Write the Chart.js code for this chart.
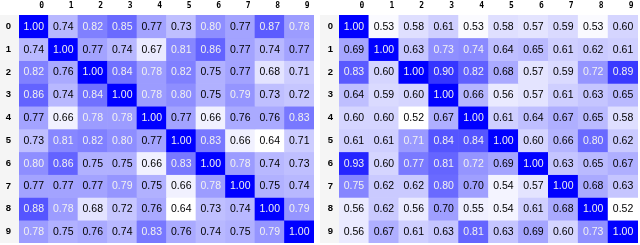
<!DOCTYPE html>
<html>
<head>
<meta charset="utf-8">
<script src="https://cdn.jsdelivr.net/npm/chart.js@4.4.1/dist/chart.umd.min.js"></script>
<style>
  html, body { margin: 0; padding: 0; background: #ffffff; overflow: hidden; }
  #wrap { position: relative; width: 640px; height: 245px; }
  canvas { position: absolute; top: 0; }
  #c1 { left: 0; }
  #c2 { left: 320px; }
</style>
</head>
<body>
<div id="wrap">
  <canvas id="c1" width="320" height="245" style="width:320px;height:245px"></canvas>
  <canvas id="c2" width="320" height="245" style="width:320px;height:245px"></canvas>
</div>
<script>
const colLabels = ['0','1','2','3','4','5','6','7','8','9'];
const rowLabels = ['0','1','2','3','4','5','6','7','8','9'];

const leftValues = [
  [1.00,0.74,0.82,0.85,0.77,0.73,0.80,0.77,0.87,0.78],
  [0.74,1.00,0.77,0.74,0.67,0.81,0.86,0.77,0.74,0.77],
  [0.82,0.76,1.00,0.84,0.78,0.82,0.75,0.77,0.68,0.71],
  [0.86,0.74,0.84,1.00,0.78,0.80,0.75,0.79,0.73,0.72],
  [0.77,0.66,0.78,0.78,1.00,0.77,0.66,0.76,0.76,0.83],
  [0.73,0.81,0.82,0.80,0.77,1.00,0.83,0.66,0.64,0.71],
  [0.80,0.86,0.75,0.75,0.66,0.83,1.00,0.78,0.74,0.73],
  [0.77,0.77,0.77,0.79,0.75,0.66,0.78,1.00,0.75,0.74],
  [0.88,0.78,0.68,0.72,0.76,0.64,0.73,0.74,1.00,0.79],
  [0.78,0.75,0.76,0.74,0.83,0.76,0.74,0.75,0.79,1.00]
];

const rightValues = [
  [1.00,0.53,0.58,0.61,0.53,0.58,0.57,0.59,0.53,0.60],
  [0.69,1.00,0.63,0.73,0.74,0.64,0.65,0.61,0.62,0.61],
  [0.83,0.60,1.00,0.90,0.82,0.68,0.57,0.59,0.72,0.89],
  [0.64,0.59,0.60,1.00,0.66,0.56,0.57,0.61,0.63,0.65],
  [0.60,0.60,0.52,0.67,1.00,0.61,0.64,0.67,0.65,0.58],
  [0.61,0.61,0.71,0.84,0.84,1.00,0.60,0.66,0.80,0.62],
  [0.93,0.60,0.77,0.81,0.72,0.69,1.00,0.63,0.65,0.67],
  [0.75,0.62,0.62,0.80,0.70,0.54,0.57,1.00,0.68,0.63],
  [0.56,0.62,0.56,0.70,0.55,0.54,0.61,0.68,1.00,0.52],
  [0.56,0.67,0.61,0.63,0.81,0.63,0.69,0.60,0.73,1.00]
];

function norm(v, lo, hi) { return (v - lo) / (hi - lo); }
function cellColor(t) {
  const c = Math.round(255 * (1 - t));
  return 'rgb(' + c + ',' + c + ',255)';
}

function makeChart(canvasId, values, opts) {
  const flat = values.flat();
  const lo = Math.min(...flat), hi = Math.max(...flat);
  const datasets = values.map((row, r) => ({
    label: rowLabels[r],
    data: row.map(() => [r - 0.5, r + 0.5]),
    backgroundColor: row.map(v => cellColor(norm(v, lo, hi))),
    borderWidth: 0,
    barPercentage: 1,
    categoryPercentage: 1,
    grouped: false
  }));

  const cellText = {
    id: 'cellText',
    beforeDraw(chart) {
      const ctx = chart.ctx, a = chart.chartArea;
      ctx.save();
      ctx.fillStyle = '#f5f5f5';
      ctx.fillRect(0, a.top, a.left, a.bottom - a.top);
      ctx.restore();
    },
    afterDatasetsDraw(chart) {
      const ctx = chart.ctx;
      ctx.save();
      ctx.font = '10.5px "Liberation Sans", Arial, sans-serif';
      ctx.textAlign = 'center';
      ctx.textBaseline = 'middle';
      values.forEach((row, r) => {
        const meta = chart.getDatasetMeta(r);
        row.forEach((v, c) => {
          const el = meta.data[c];
          const cy = (el.y + el.base) / 2;
          ctx.fillStyle = norm(v, lo, hi) >= 0.38 ? '#f1f1f1' : '#000000';
          ctx.fillText(v.toFixed(2), el.x, cy + 0.5);
        });
      });
      ctx.restore();
    }
  };

  return new Chart(document.getElementById(canvasId), {
    type: 'bar',
    data: { labels: colLabels, datasets },
    options: {
      responsive: false,
      maintainAspectRatio: false,
      devicePixelRatio: 1,
      animation: false,
      layout: { padding: { left: 0, right: opts.padRight, top: 0, bottom: 2 } },
      plugins: { legend: { display: false }, tooltip: { enabled: false } },
      scales: {
        x: {
          type: 'category',
          position: 'top',
          offset: true,
          grid: { display: false, drawTicks: false },
          border: { display: false },
          ticks: {
            color: '#000',
            font: { family: '"DejaVu Sans Mono", monospace', size: 8, weight: 'bold' },
            padding: 4,
            labelOffset: 8,
            maxRotation: 0,
            autoSkip: false
          },
          afterFit(scale) { scale.height = 15; scale.paddingLeft = 0; scale.paddingRight = 0; }
        },
        y: {
          type: 'linear',
          reverse: true,
          min: -0.5,
          max: 9.5,
          grid: { display: false, drawTicks: false },
          border: { display: false },
          afterBuildTicks(scale) { scale.ticks = rowLabels.map((l, i) => ({ value: i })); },
          ticks: {
            color: '#000',
            font: { family: '"Liberation Sans", Arial, sans-serif', size: 9.5, weight: 'bold' },
            padding: opts.yPad,
            callback: (v) => rowLabels[v]
          },
          afterFit(scale) { scale.width = 19; scale.paddingTop = 0; scale.paddingBottom = 0; }
        }
      }
    },
    plugins: [cellText]
  });
}

makeChart('c1', leftValues, { padRight: 6, yPad: 8 });
makeChart('c2', rightValues, { padRight: 2, yPad: 6 });
</script>
</body>
</html>
